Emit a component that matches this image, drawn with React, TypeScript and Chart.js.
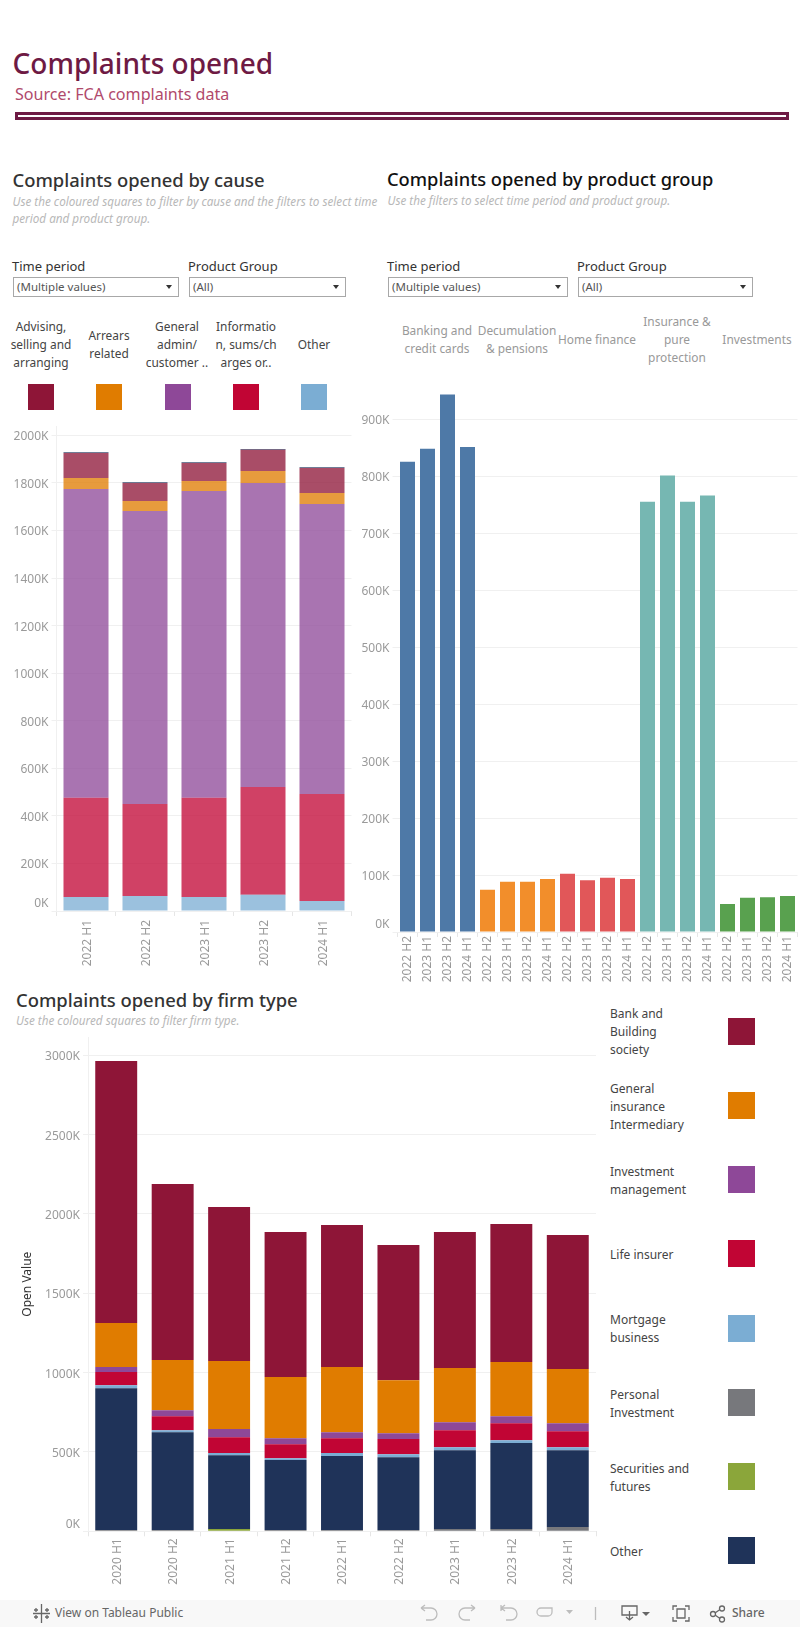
import React, { useEffect, useRef } from "react";
import { Chart, registerables } from "chart.js";

Chart.register(...registerables);

const FONT = '"Noto Sans", "Open Sans", sans-serif';
const GRID = "#f0f0f0";
const TICK = "#e6e6e6";
const LABEL = "#9a9a9a";

// ---------- cause chart (thousands) ----------
const causePeriods = ["2022 H1", "2022 H2", "2023 H1", "2023 H2", "2024 H1"];
const causeTicks = [0, 200, 400, 600, 800, 1000, 1200, 1400, 1600, 1800, 2000];
const causeOther = [59, 63, 59, 68, 42];
const causeInfo = [417, 387, 417, 453, 450];
const causeGeneral = [1299, 1232, 1290, 1279, 1220];
const causeArrears = [46, 42, 42, 50, 46];
const causeAdvising = [105, 76, 76, 90, 105];
const causeSliver = [3, 3, 3, 3, 3];

// ---------- product chart (thousands) ----------
const productPeriods = ["2022 H2", "2023 H1", "2023 H2", "2024 H1"];
const productTicks = [0, 100, 200, 300, 400, 500, 600, 700, 800, 900];
const banking = [825, 848, 943, 851];
const decumulation = [74, 88, 88, 93];
const homeFinance = [102, 91, 95, 93];
const insurance = [755, 801, 755, 766];
const investments = [49, 60, 61, 63];

// ---------- firm chart (thousands) ----------
const firmPeriods = ["2020 H1", "2020 H2", "2021 H1", "2021 H2", "2022 H1", "2022 H2", "2023 H1", "2023 H2", "2024 H1"];
const firmTicks = [0, 500, 1000, 1500, 2000, 2500, 3000];
const firmPersonal = [8, 8, 0, 8, 8, 8, 15, 15, 27];
const firmSecurities = [0, 0, 14, 0, 0, 0, 0, 0, 0];
const firmOther = [893, 617, 466, 441, 466, 459, 496, 541, 484];
const firmMortgage = [19, 12, 13, 12, 19, 19, 19, 18, 19];
const firmLife = [84, 88, 100, 88, 94, 95, 107, 107, 101];
const firmInvestment = [32, 38, 51, 38, 38, 37, 51, 44, 50];
const firmGeneral = [277, 317, 430, 386, 411, 334, 341, 342, 342];
const firmBank = [1651, 1109, 970, 914, 895, 853, 858, 870, 845];

const C = {
  maroon: "#8E1537",
  orange: "#E07C00",
  purple: "#8E4898",
  red: "#C10534",
  blue: "#7BADD3",
  grey: "#77787C",
  green: "#8BA63A",
  navy: "#1F3359",
};

const fade = (hex: string, a = 0.76) => {
  const n = parseInt(hex.slice(1), 16);
  return `rgba(${n >> 16},${(n >> 8) & 255},${n & 255},${a})`;
};

type Geo = { left: number; top: number; width: number; height: number; plotL: number; plotR: number; plotT: number; plotB: number };

function buildOptions(g: Geo, max: number, tickValues: number[], border: boolean, xPad: number, xShift: number, title?: string) {
  return {
    responsive: false,
    animation: false as const,
    layout: { padding: { top: g.plotT - g.top, right: g.left + g.width - g.plotR, left: 0, bottom: 0 } },
    plugins: { legend: { display: false }, tooltip: { enabled: false } },
    scales: {
      x: {
        stacked: true,
        offset: true,
        grid: { drawOnChartArea: false, drawTicks: true, tickLength: 5, tickColor: TICK, offset: true },
        border: { display: false },
        ticks: {
          autoSkip: false,
          minRotation: 90,
          maxRotation: 90,
          padding: xPad,
          labelOffset: xShift,
          color: LABEL,
          font: { family: FONT, size: 12 },
        },
        afterFit: (s: any) => {
          s.height = g.top + g.height - g.plotB;
          s.paddingLeft = s.paddingRight = 0;
        },
      },
      y: {
        stacked: true,
        min: 0,
        max,
        grid: { color: GRID, tickLength: 5, tickColor: GRID },
        border: { display: border, color: GRID },
        title: title
          ? { display: true, text: title, color: "#333", font: { family: FONT, size: 12 }, padding: { top: 20, bottom: 0 } }
          : { display: false },
        afterBuildTicks: (s: any) => {
          s.ticks = tickValues.map((value) => ({ value }));
        },
        ticks: {
          padding: 3,
          labelOffset: 1.5,
          color: LABEL,
          font: { family: FONT, size: 12 },
          callback: (v: number) => (v === 0 ? "" : `${v}K`),
        },
        afterFit: (s: any) => {
          s.width = g.plotL - g.left;
          s.paddingTop = s.paddingBottom = 0;
        },
      },
    },
  };
}

// the zero label sits a little above its gridline in the reference
const zeroLabel = {
  id: "zeroLabel",
  afterDraw(chart: any) {
    const y = chart.scales.y;
    const ctx = chart.ctx;
    ctx.save();
    ctx.font = `12px ${FONT}`;
    ctx.fillStyle = LABEL;
    ctx.textAlign = "right";
    ctx.textBaseline = "middle";
    ctx.fillText("0K", y.right - 8, y.getPixelForValue(0) - 7);
    ctx.restore();
  },
};

function ChartBox({ geo, make }: { geo: Geo; make: () => any }) {
  const ref = useRef<HTMLCanvasElement>(null);
  useEffect(() => {
    const chart = new Chart(ref.current!, { ...make(), plugins: [zeroLabel] });
    return () => chart.destroy();
  }, []);
  return (
    <canvas
      ref={ref}
      width={geo.width}
      height={geo.height}
      style={{ position: "absolute", left: geo.left, top: geo.top, width: geo.width, height: geo.height }}
    />
  );
}

const causeGeo: Geo = { left: 0, top: 420, width: 360, height: 555, plotL: 56.5, plotR: 351.5, plotT: 426, plotB: 911 };
const productGeo: Geo = { left: 355, top: 380, width: 445, height: 610, plotL: 397.5, plotR: 797.5, plotT: 388, plotB: 932 };
const firmGeo: Geo = { left: 0, top: 1030, width: 600, height: 570, plotL: 88, plotR: 596, plotT: 1037, plotB: 1531.3 };

const bar = (label: string, data: number[], color: any, pct: number) => ({
  label,
  data,
  backgroundColor: color,
  borderWidth: 0,
  categoryPercentage: 1,
  barPercentage: pct,
});

const makeCause = () => ({
  type: "bar",
  data: {
    labels: causePeriods,
    datasets: [
      bar("Other", causeOther, fade(C.blue), 0.763),
      bar("Information, sums/charges or..", causeInfo, fade(C.red), 0.763),
      bar("General admin/customer ..", causeGeneral, fade(C.purple), 0.763),
      bar("Arrears related", causeArrears, fade(C.orange), 0.763),
      bar("Advising, selling and arranging", causeAdvising, fade(C.maroon), 0.763),
      bar("Unattributed", causeSliver, fade(C.navy, 0.85), 0.763),
    ],
  },
  options: buildOptions(causeGeo, 2039.6, causeTicks, true, 4, 1.5),
});

const productGroups = [banking, decumulation, homeFinance, insurance, investments];
const productColors = ["#4E79A7", "#F28E2B", "#E15759", "#76B7B2", "#59A14F"];

const makeProduct = () => ({
  type: "bar",
  data: {
    labels: productGroups.flatMap(() => productPeriods),
    datasets: [
      bar(
        "Complaints",
        productGroups.flat(),
        productGroups.flatMap((grp, i) => grp.map(() => productColors[i])),
        0.75
      ),
    ],
  },
  options: buildOptions(productGeo, 954.4, productTicks, false, -1, 0),
});

const makeFirm = () => ({
  type: "bar",
  data: {
    labels: firmPeriods,
    datasets: [
      bar("Personal Investment", firmPersonal, C.grey, 0.743),
      bar("Securities and futures", firmSecurities, C.green, 0.743),
      bar("Other", firmOther, C.navy, 0.743),
      bar("Mortgage business", firmMortgage, C.blue, 0.743),
      bar("Life insurer", firmLife, C.red, 0.743),
      bar("Investment management", firmInvestment, C.purple, 0.743),
      bar("General insurance Intermediary", firmGeneral, C.orange, 0.743),
      bar("Bank and Building society", firmBank, C.maroon, 0.743),
    ],
  },
  options: buildOptions(firmGeo, 3115.5, firmTicks, true, 2, 1, "Open Value"),
});

const T = ({ x, y, children, size = 13, color = "#444", center, weight, italic, w }: any) => (
  <div
    style={{
      position: "absolute",
      left: center ? x - 60 : x,
      top: y,
      width: center ? 120 : w,
      transform: "translateY(-50%)",
      textAlign: center ? "center" : "left",
      fontFamily: FONT,
      fontSize: size,
      lineHeight: 1,
      color,
      fontWeight: weight,
      fontStyle: italic ? "italic" : undefined,
      whiteSpace: "nowrap",
    }}
  >
    {children}
  </div>
);

const Lines = ({ x, cy, lines, lh = 18, ...rest }: any) => (
  <>
    {lines.map((l: string, i: number) => (
      <T key={i} x={x} y={cy + (i - (lines.length - 1) / 2) * lh} {...rest}>
        {l}
      </T>
    ))}
  </>
);

const Square = ({ x, y, s, color }: any) => (
  <div style={{ position: "absolute", left: x, top: y, width: s, height: s, background: color }} />
);

const Drop = ({ x, y, w, text }: any) => (
  <div
    style={{
      position: "absolute",
      left: x,
      top: y,
      width: w,
      height: 20,
      boxSizing: "border-box",
      border: "1px solid #a8a8a8",
      background: "#fff",
    }}
  >
    <div
      style={{
        position: "absolute",
        left: 3,
        top: 9,
        transform: "translateY(-50%)",
        fontFamily: FONT,
        fontSize: 11.5,
        lineHeight: 1,
        color: "#555",
        whiteSpace: "nowrap",
      }}
    >
      {text}
    </div>
    <div
      style={{
        position: "absolute",
        right: 6,
        top: 7,
        width: 0,
        height: 0,
        borderLeft: "3px solid transparent",
        borderRight: "3px solid transparent",
        borderTop: "4px solid #333",
      }}
    />
  </div>
);

const causeLegend = [
  { x: 41, cy: 345, lines: ["Advising,", "selling and", "arranging"], sq: 28, color: C.maroon },
  { x: 109, cy: 345, lines: ["Arrears", "related"], sq: 96, color: C.orange },
  { x: 177, cy: 345, lines: ["General", "admin/", "customer .."], sq: 165, color: C.purple },
  { x: 246, cy: 345, lines: ["Informatio", "n, sums/ch", "arges or.."], sq: 233, color: C.red },
  { x: 314, cy: 345, lines: ["Other"], sq: 301, color: C.blue },
];

const productHeaders = [
  { x: 437, lines: ["Banking and", "credit cards"] },
  { x: 517, lines: ["Decumulation", "& pensions"] },
  { x: 597, lines: ["Home finance"] },
  { x: 677, lines: ["Insurance &", "pure", "protection"] },
  { x: 757, lines: ["Investments"] },
];

const firmLegend = [
  { lines: ["Bank and", "Building", "society"], cy: 1031.5, sq: 1018, color: C.maroon },
  { lines: ["General", "insurance", "Intermediary"], cy: 1107, sq: 1092, color: C.orange },
  { lines: ["Investment", "management"], cy: 1181, sq: 1166, color: C.purple },
  { lines: ["Life insurer"], cy: 1254.7, sq: 1240, color: C.red },
  { lines: ["Mortgage", "business"], cy: 1329, sq: 1315, color: C.blue },
  { lines: ["Personal", "Investment"], cy: 1404, sq: 1389, color: C.grey },
  { lines: ["Securities and", "futures"], cy: 1477.6, sq: 1463, color: C.green },
  { lines: ["Other"], cy: 1551.6, sq: 1537, color: C.navy },
];

const Footer = () => (
  <div style={{ position: "absolute", left: 0, top: 1600, width: 800, height: 27, background: "#f8f8f8" }}>
    <svg width="800" height="27" style={{ position: "absolute", left: 0, top: 0 }} fill="none" strokeWidth="1.3">
      <g stroke="#666">
        <path d="M41.5 4v6M41.5 17v6M33 13.5h6M44 13.5h6M36 8v4M34 10h4M47 8v4M45 10h4M36 15v4M34 17h4M47 15v4M45 17h4M41.5 10v7M38 13.5h7" />
      </g>
      <g stroke="#bdbdbd">
        <path d="M421 8h10a5 5 0 0 1 0 12h-5M421 8l4-3M421 8l4 3" />
        <path d="M475 8h-10a5 5 0 0 0 0 12h5M475 8l-4-3M475 8l-4 3" />
        <path d="M501 5v6M501 8h10a5 5 0 0 1 0 12h-5M501 8l4-3M501 8l4 3" />
        <path d="M552 8h-11a4 4 0 0 0 0 8h7a4 4 0 0 0 4-4z" />
        <path d="M595.5 7v13" />
      </g>
      <path d="M566 10h7l-3.500 4z" fill="#bdbdbd" />
      <g stroke="#666">
        <path d="M622 6h15v9h-15zM629.500 11v9M626 17l3.500 3 3.500-3" />
        <path d="M673 10V6h4M685 6h4v4M689 17v4h-4M677 21h-4v-4M677 9h8v9h-8z" />
        <circle cx="713" cy="14" r="2.500" />
        <circle cx="722" cy="8.500" r="2.500" />
        <circle cx="722" cy="19.500" r="2.500" />
        <path d="M715 13l5-3.500M715 15l5 3.500" />
      </g>
      <path d="M642 12h8l-4 4z" fill="#666" />
    </svg>
    <T x={55} y={13} size={12} color="#666">View on Tableau Public</T>
    <T x={732} y={13} size={12} color="#666" weight={500}>Share</T>
  </div>
);

export default function App() {
  return (
    <div style={{ position: "absolute", left: 0, top: 0, width: 800, height: 1627, overflow: "hidden", background: "#fff" }}>
      <T x={12.5} y={63} size={28} color="#6E1A44" weight={500}>Complaints opened</T>
      <T x={15} y={94} size={16.1} color="#B04A6C">Source: FCA complaints data</T>
      <div
        style={{
          position: "absolute",
          left: 15,
          top: 112,
          width: 774,
          height: 8,
          boxSizing: "border-box",
          border: "3px solid #6E1A44",
        }}
      />

      <T x={12.5} y={180} size={18.4} color="#333" weight={500}>Complaints opened by cause</T>
      <T x={12.5} y={202} size={11.7} color="#b8b8b8" italic>Use the coloured squares to filter by cause and the filters to select time</T>
      <T x={12.5} y={219} size={11.7} color="#b8b8b8" italic>period and product group.</T>

      <T x={387} y={179} size={18.3} color="#111" weight={500}>Complaints opened by product group</T>
      <T x={387.5} y={201} size={11.7} color="#b8b8b8" italic>Use the filters to select time period and product group.</T>

      <T x={12} y={266} size={13} color="#333">Time period</T>
      <T x={188} y={266} size={13} color="#333">Product Group</T>
      <Drop x={13} y={277} w={166} text="(Multiple values)" />
      <Drop x={189} y={277} w={157} text="(All)" />

      <T x={387} y={266} size={13} color="#333">Time period</T>
      <T x={577} y={266} size={13} color="#333">Product Group</T>
      <Drop x={388} y={277} w={180} text="(Multiple values)" />
      <Drop x={578} y={277} w={175} text="(All)" />

      {causeLegend.map((c, i) => (
        <React.Fragment key={i}>
          <Lines x={c.x} cy={c.cy} lines={c.lines} center size={11.9} color="#444" />
          <Square x={c.sq} y={384} s={26} color={c.color} />
        </React.Fragment>
      ))}

      {productHeaders.map((c, i) => (
        <Lines key={i} x={c.x} cy={340} lines={c.lines} center size={11.9} color="#999" />
      ))}

      <T x={16} y={1000} size={18.4} color="#333" weight={500}>Complaints opened by firm type</T>
      <T x={16} y={1021} size={11.7} color="#b8b8b8" italic>Use the coloured squares to filter firm type.</T>

      {firmLegend.map((c, i) => (
        <React.Fragment key={i}>
          <Lines x={610} cy={c.cy} lines={c.lines} size={12} color="#444" />
          <Square x={728} y={c.sq} s={27} color={c.color} />
        </React.Fragment>
      ))}

      <ChartBox geo={causeGeo} make={makeCause} />
      <ChartBox geo={productGeo} make={makeProduct} />
      <ChartBox geo={firmGeo} make={makeFirm} />
      <Footer />
    </div>
  );
}
